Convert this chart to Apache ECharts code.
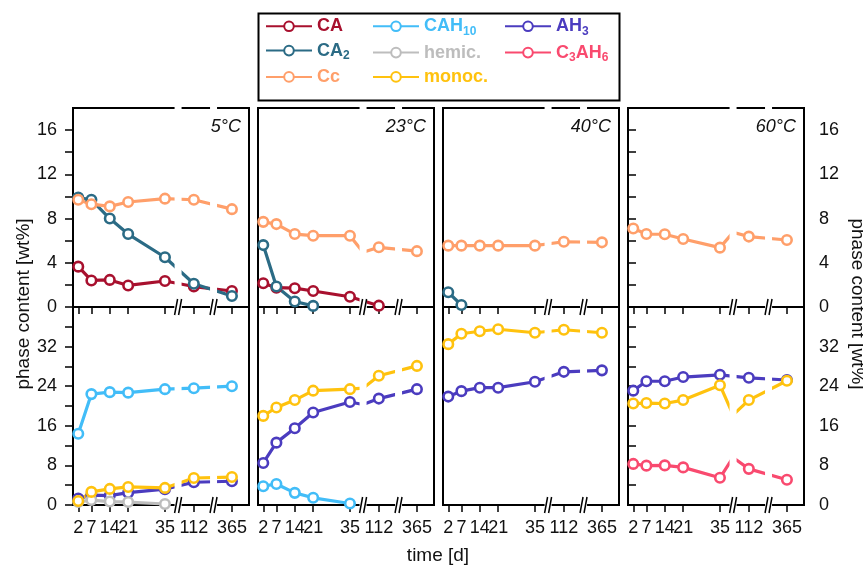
<!DOCTYPE html>
<html><head><meta charset="utf-8">
<script src="https://cdn.jsdelivr.net/npm/echarts@6/dist/echarts.min.js"></script>
<style>html,body{margin:0;padding:0;background:#fff}#c{width:863px;height:565px}</style>
</head><body><div id="c"></div>
<script>
// ---- data ----
const days = [2, 7, 14, 21, 35, 56, 112, 365];   // 56 d lies inside the axis break (not displayed)
const hiddenDay = 56;
const dayTicks = [2, 7, 14, 21, 35, 112, 365];
const xBreaks = [[40, 106], [119.5, 358]];
const panelTitles = ['5°C', '23°C', '40°C', '60°C'];
const topTicks = [0, 2, 4, 6, 8, 10, 12, 14, 16];
const topLabels = [0, 4, 8, 12, 16];
const bottomTicks = [0, 4, 8, 12, 16, 20, 24, 28, 32, 36];
const bottomLabels = [0, 8, 16, 24, 32];

// 5 °C
const CA_5     = [3.65, 2.4, 2.45, 1.95, 2.35, null, 1.85, 1.45];
const CA2_5    = [9.9, 9.7, 8.0, 6.6, 4.5, null, 2.1, 1.0];
const Cc_5     = [9.7, 9.3, 9.1, 9.5, 9.8, null, 9.7, 8.85];
const CAH10_5  = [14.4, 22.4, 22.8, 22.7, 23.4, null, 23.6, 24.0];
const AH3_5    = [1.3, 2.0, 1.9, 2.5, 3.2, null, 4.6, 4.8];
const hemic_5  = [0.6, 1.0, 0.7, 0.6, 0.2, null, null, null];
const monoc_5  = [0.8, 2.65, 3.25, 3.65, 3.45, null, 5.45, 5.65];
// 23 °C
const CA_23    = [2.15, 1.75, 1.7, 1.45, 0.93, null, 0.12, null];
const CA2_23   = [5.6, 1.85, 0.5, 0.1, null, null, null, null];
const Cc_23    = [7.7, 7.5, 6.6, 6.45, 6.45, 4.95, 5.4, 5.05];
const CAH10_23 = [3.8, 4.25, 2.45, 1.45, 0.3, null, null, null];
const AH3_23   = [8.5, 12.6, 15.5, 18.7, 20.8, 20.3, 21.5, 23.4];
const monoc_23 = [18.0, 19.7, 21.2, 23.1, 23.4, 23.6, 26.1, 28.1];
// 40 °C
const CA2_40   = [1.33, 0.18, null, null, null, null, null, null];
const Cc_40    = [5.55, 5.55, 5.55, 5.55, 5.55, null, 5.9, 5.85];
const AH3_40   = [21.9, 23.0, 23.7, 23.7, 24.9, null, 26.9, 27.2];
const monoc_40 = [32.5, 34.6, 35.1, 35.5, 34.8, null, 35.4, 34.8];
// 60 °C
const Cc_60    = [7.1, 6.6, 6.58, 6.15, 5.37, 6.75, 6.37, 6.06];
const AH3_60   = [23.1, 25.0, 25.0, 25.85, 26.3, null, 25.7, 25.25];
const monoc_60 = [20.5, 20.6, 20.5, 21.2, 24.2, 18.2, 21.2, 25.1];
const C3AH6_60 = [8.3, 7.95, 8.0, 7.6, 5.5, 9.6, 7.3, 5.1];

const panels = [
  { top: { CA: CA_5, CA2: CA2_5, Cc: Cc_5 },
    bottom: { CAH10: CAH10_5, AH3: AH3_5, 'hemic.': hemic_5, 'monoc.': monoc_5 } },
  { top: { CA: CA_23, CA2: CA2_23, Cc: Cc_23 },
    bottom: { CAH10: CAH10_23, AH3: AH3_23, 'monoc.': monoc_23 } },
  { top: { CA2: CA2_40, Cc: Cc_40 },
    bottom: { AH3: AH3_40, 'monoc.': monoc_40 } },
  { top: { Cc: Cc_60 },
    bottom: { AH3: AH3_60, 'monoc.': monoc_60, C3AH6: C3AH6_60 } }
];

// ---- style ----
const FONT = "'Liberation Sans', Arial, Helvetica, sans-serif";
const colors = {
  CA: '#A8102E', CA2: '#2B6B85', Cc: '#FF9F6A', CAH10: '#42BDF8',
  'hemic.': '#BDBDBD', 'monoc.': '#FFC20E', AH3: '#4B3CBF', C3AH6: '#F94A6F'
};
const legendLabel = {
  CA: '{m|CA}', CA2: '{m|CA}{s|2}', Cc: '{m|Cc}', CAH10: '{m|CAH}{s|10}',
  'hemic.': '{m|hemic.}', 'monoc.': '{m|monoc.}', AH3: '{m|AH}{s|3}', C3AH6: '{m|C}{s|3}{m|AH}{s|6}'
};
const drawOrder = ['CA', 'CAH10', 'AH3', 'CA2', 'hemic.', 'C3AH6', 'Cc', 'monoc.'];
const legendCols = [['CA', 'CA2', 'Cc'], ['CAH10', 'hemic.', 'monoc.'], ['AH3', 'C3AH6']];
const legendLeft = [265, 372, 504];

const gridLeft = [73, 258, 443, 628];
const gridW = 176;
const rowTop = [108, 307];
const rowH = [199, 198];

const grids = [], xAxes = [], yAxes = [], series = [], graphics = [];
for (let row = 0; row < 2; row++) {
  for (let col = 0; col < 4; col++) {
    const g = row * 4 + col;
    grids.push({ left: gridLeft[col], top: rowTop[row], width: gridW, height: rowH[row],
      show: true, borderColor: '#000', borderWidth: 2, backgroundColor: 'transparent',
      containLabel: false, outerBoundsMode: 'none' });
    xAxes.push({
      type: 'value', gridIndex: g, min: 0, max: 371.5,
      breaks: xBreaks.map(b => ({ start: b[0], end: b[1], gap: 0 })),
      breakArea: { show: false },
      axisLine: { show: false }, splitLine: { show: false },
      axisTick: { show: true, inside: false, length: 7, customValues: dayTicks,
        lineStyle: { color: '#000', width: 1.5 } },
      axisLabel: { show: row === 1, customValues: dayTicks, fontSize: 18, color: '#111',
        fontFamily: FONT, margin: 14 }
    });
    yAxes.push({
      type: 'value', gridIndex: g, min: 0, max: row === 0 ? 18 : 40,
      show: col === 0 || col === 3, position: col === 3 ? 'right' : 'left',
      axisLine: { show: false }, splitLine: { show: false },
      axisTick: { show: true, inside: false, length: 8,
        customValues: row === 0 ? topTicks : bottomTicks, lineStyle: { color: '#000', width: 1.5 } },
      axisLabel: { customValues: row === 0 ? topLabels : bottomLabels, fontSize: 18, color: '#111',
        fontFamily: FONT, margin: col === 3 ? 15 : 16 }
    });
    const set = row === 0 ? panels[col].top : panels[col].bottom;
    drawOrder.forEach(name => {
      const vals = set[name];
      if (!vals) return;
      const data = [];
      days.forEach((d, i) => {
        if (vals[i] == null) return;
        if (d === hiddenDay) data.push({ value: [d, vals[i]], symbol: 'none' });
        else data.push([d, vals[i]]);
      });
      series.push({
        type: 'line', name, xAxisIndex: g, yAxisIndex: g, data,
        color: colors[name],
        symbol: 'circle', symbolSize: 9.5,
        itemStyle: { color: '#fff', borderColor: colors[name], borderWidth: 2.6 },
        lineStyle: { color: colors[name], width: 3.2 },
        emphasis: { disabled: true }, z: 2
      });
    });
    // cover of the line inside the axis breaks
    series.push({
      type: 'custom', xAxisIndex: g, yAxisIndex: g, silent: true, clip: false, z: 5,
      data: xBreaks.map(b => [b[0], 0]),
      renderItem(params, api) {
        const cs = params.coordSys;
        const x = api.coord([api.value(0), 0])[0];
        return { type: 'rect', shape: { x: x - 3.5, y: cs.y - 1.5, width: 7, height: cs.height + 3 },
          style: { fill: '#fff' } };
      }
    });
    // break marks "//" on the lower axis
    series.push({
      type: 'custom', xAxisIndex: g, yAxisIndex: g, silent: true, clip: false, z: 6,
      data: xBreaks.map(b => [b[0], 0]),
      renderItem(params, api) {
        const cs = params.coordSys;
        const x = api.coord([api.value(0), 0])[0];
        const yb = cs.y + cs.height;
        return { type: 'group', children: [
          { type: 'line', shape: { x1: x - 3.5, y1: yb + 8, x2: x - 0.5, y2: yb - 8 },
            style: { stroke: '#000', lineWidth: 1.5 } },
          { type: 'line', shape: { x1: x + 0.5, y1: yb + 8, x2: x + 3.5, y2: yb - 8 },
            style: { stroke: '#000', lineWidth: 1.5 } }
        ] };
      }
    });
  }
}

panelTitles.forEach((t, col) => {
  graphics.push({ type: 'text', x: gridLeft[col] + gridW - 8, y: 127, silent: true, z: 100,
    style: { text: t, align: 'right', verticalAlign: 'middle', fill: '#111',
      font: 'italic 18px ' + FONT } });
});
graphics.push({ type: 'text', x: 24, y: 304, rotation: Math.PI / 2, silent: true, z: 100,
  style: { text: 'phase content [wt%]', align: 'center', verticalAlign: 'middle', fill: '#111', font: '19px ' + FONT } });
graphics.push({ type: 'text', x: 857, y: 304, rotation: -Math.PI / 2, silent: true, z: 100,
  style: { text: 'phase content [wt%]', align: 'center', verticalAlign: 'middle', fill: '#111', font: '19px ' + FONT } });
graphics.push({ type: 'text', x: 438, y: 556, silent: true, z: 100,
  style: { text: 'time [d]', align: 'center', verticalAlign: 'middle', fill: '#111', font: '19px ' + FONT } });
graphics.push({ type: 'rect', shape: { x: 258.5, y: 13.5, width: 361, height: 87 }, silent: true, z: 100,
  style: { fill: 'none', stroke: '#000', lineWidth: 2 } });

const legends = legendCols.map((names, k) => ({
  orient: 'vertical', left: legendLeft[k], top: 17.3, padding: 0, itemGap: 6.3,
  itemWidth: 46, itemHeight: 12, selectedMode: false,
  data: names.map(n => ({ name: n, textStyle: { color: colors[n] } })),
  formatter: n => legendLabel[n],
  textStyle: { fontSize: 18, fontWeight: 'bold', fontFamily: FONT,
    rich: {
      m: { fontSize: 18, fontWeight: 'bold', fontFamily: FONT, lineHeight: 22 },
      s: { fontSize: 12, fontWeight: 'bold', fontFamily: FONT, lineHeight: 10, verticalAlign: 'bottom' }
    } }
}));

const chart = echarts.init(document.getElementById('c'), null, { renderer: 'canvas' });
chart.setOption({
  animation: false,
  backgroundColor: '#fff',
  grid: grids, xAxis: xAxes, yAxis: yAxes, series,
  legend: legends,
  graphic: graphics
});
</script></body></html>
